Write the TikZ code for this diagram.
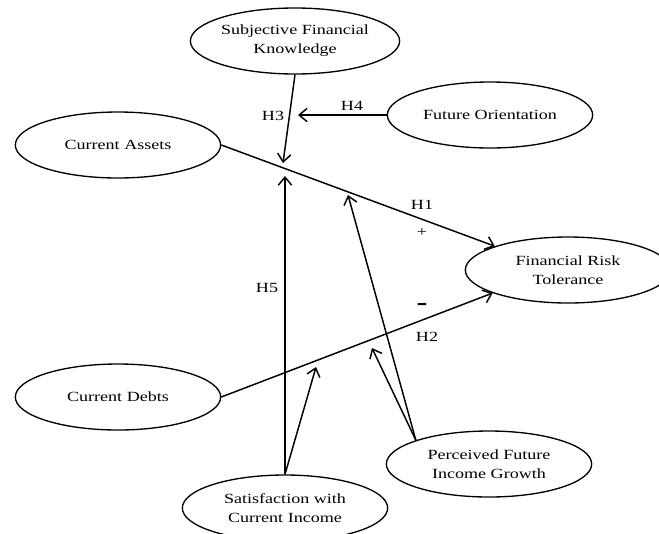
\documentclass[tikz,border=0pt]{standalone}
\usepackage{fontspec}
\setmainfont{Liberation Serif}[FakeStretch=1.29]
\usetikzlibrary{shapes.geometric, arrows.meta}

\begin{document}
\begin{tikzpicture}[x=0.75pt, y=-0.75pt,
  construct/.style={draw, ellipse, line width=1pt, minimum width=154pt, minimum height=49.5pt,
    inner sep=0pt, align=center, font=\fontsize{10.5}{14.25}\selectfont},
  link/.style={line width=1.1pt, -{Straight Barb[length=6pt,width=10pt]}},
  hyp/.style={inner sep=1pt, font=\fontsize{10.5}{14.25}\selectfont}]

% crop to the frame of the figure
\clip (0,0) rectangle (659,533);

% the constructs
\node[construct] (sfk) at (295,41) {Subjective Financial\\Knowledge};
\node[construct] (fo) at (490,115) {Future Orientation};
\node[construct] (ca) at (118,145) {Current Assets};
\node[construct] (frt) at (568,270) {Financial Risk\\Tolerance};
\node[construct] (cd) at (118,397) {Current Debts};
\node[construct] (pfig) at (489,464) {Perceived Future\\Income Growth};
\node[construct] (sat) at (285,508) {Satisfaction with\\Current Income};

% where the moderating arrows stop
\coordinate (t3) at (283,163);
\coordinate (t4) at (298,115);
\coordinate (t5) at (285,176);
\coordinate (tsd) at (316,367);
\coordinate (tpa) at (348,195);
\coordinate (tpd) at (372,348);

% direct effects
\draw[link] (ca.east) -- (frt.162);
\draw[link] (cd.east) -- (frt.197);

% moderators
\draw[link] (sfk.south) -- (t3);
\draw[link] (fo.west) -- (t4);
\draw[link] (sat.north) -- (t5);
\draw[link] (sat.north) -- (tsd);
\draw[link] (pfig.162) -- (tpa);
\draw[link] (pfig.162) -- (tpd);

% hypothesis labels
\node[hyp] (h1) at (422,205) {H1};
\node[hyp] (plus) at (422,233) {+};
\node[hyp] (minus) at (422,307) {\fontsize{19}{19}\selectfont\textbf{-}};
\node[hyp] (h2) at (427,337) {H2};
\node[hyp] (h3) at (273,116) {H3};
\node[hyp] (h4) at (352,106) {H4};
\node[hyp] (h5) at (267,288) {H5};

\end{tikzpicture}
\end{document}
